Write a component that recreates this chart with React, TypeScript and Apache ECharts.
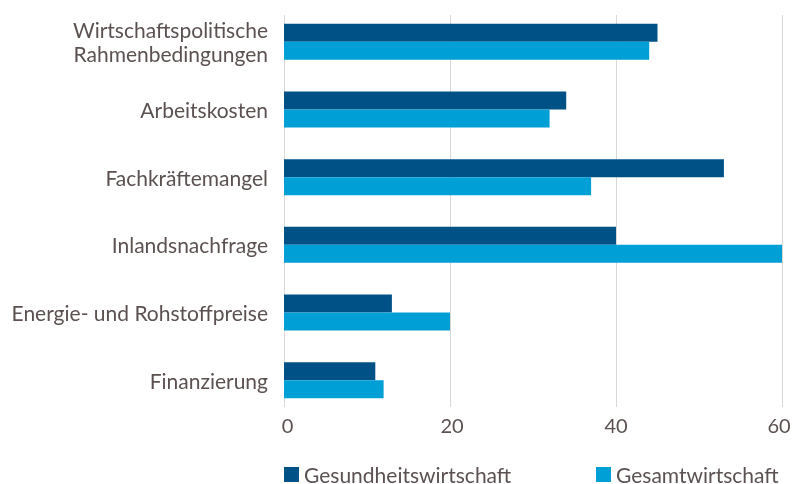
import React, { useEffect, useRef } from "react";
import * as echarts from "echarts";

const categories = [
  "Wirtschaftspolitische\nRahmenbedingungen",
  "Arbeitskosten",
  "Fachkräftemangel",
  "Inlandsnachfrage",
  "Energie- und Rohstoffpreise",
  "Finanzierung",
];
const seriesNames = ["Gesundheitswirtschaft", "Gesamtwirtschaft"];
const gesundheit = [45, 34, 53, 40, 13, 11];
const gesamt = [44, 32, 37, 60, 20, 12];
const xTicks = { min: 0, max: 60, interval: 20 };

const FONT = "Lato";
const TEXT_COLOR = "#5b5150";
const DARK = "#005286";
const LIGHT = "#009fd6";

const tickStyle = { fontFamily: FONT, fontSize: 20, color: TEXT_COLOR };

export default function App() {
  const ref = useRef<HTMLDivElement>(null);
  useEffect(() => {
    const chart = echarts.init(ref.current!, null, { renderer: "svg" });
    chart.setOption({
      animation: false,
      textStyle: { fontFamily: FONT },
      grid: [
        { left: 284, right: 10, top: 8, bottom: 70, containLabel: false, outerBoundsMode: "none" },
        { left: 284, right: 10, top: 15, bottom: 77, containLabel: false, outerBoundsMode: "none" },
      ],
      legend: [
        {
          data: [seriesNames[0]],
          left: 284,
          top: 464,
          itemWidth: 15,
          itemHeight: 15,
          itemGap: 8,
          icon: "rect",
          textStyle: { fontFamily: FONT, fontSize: 21, lineHeight: 17, color: TEXT_COLOR },
          padding: 0,
        },
        {
          data: [seriesNames[1]],
          left: 596,
          top: 464,
          itemWidth: 15,
          itemHeight: 15,
          icon: "rect",
          textStyle: { fontFamily: FONT, fontSize: 21, lineHeight: 17, color: TEXT_COLOR },
          padding: 0,
        },
      ],
      xAxis: [
        {
          type: "value",
          gridIndex: 0,
          min: xTicks.min,
          max: xTicks.max,
          interval: xTicks.interval,
          axisLine: { show: false },
          axisTick: { show: false },
          splitLine: { show: false },
          axisLabel: {
            ...tickStyle,
            margin: 1,
            formatter: (v: number) =>
              v === 0 ? `{a|${v}}` : v === 20 ? `{b|${v}}` : v === 60 ? `{d|${v}}` : `{c|${v}}`,
            rich: {
              a: { ...tickStyle, padding: [0, 0, 0, 7] },
              b: { ...tickStyle, padding: [0, 0, 0, 4] },
              c: { ...tickStyle },
              d: { ...tickStyle, padding: [0, 6, 0, 0] },
            },
          },
        },
        {
          type: "value",
          gridIndex: 1,
          min: xTicks.min,
          max: xTicks.max,
          interval: xTicks.interval,
          axisLine: { show: false },
          axisTick: { show: false },
          axisLabel: { show: false },
          splitLine: { show: true, lineStyle: { color: "#dad7d7", width: 1 } },
        },
      ],
      yAxis: [
        {
          type: "category",
          gridIndex: 0,
          data: categories,
          inverse: true,
          axisLine: { show: false },
          axisTick: { show: false },
          axisLabel: {
            fontFamily: FONT,
            fontSize: 21,
            lineHeight: 24,
            color: TEXT_COLOR,
            margin: 16,
            align: "right",
            padding: [0, 0, 6, 0],
          },
        },
        {
          type: "value",
          gridIndex: 1,
          min: 0,
          max: 1,
          show: false,
          splitLine: { show: false },
        },
      ],
      series: [
        {
          name: seriesNames[0],
          type: "bar",
          xAxisIndex: 0,
          yAxisIndex: 0,
          data: gesundheit,
          barWidth: 18,
          barGap: "0%",
          itemStyle: { color: DARK },
          z: 3,
        },
        {
          name: seriesNames[1],
          type: "bar",
          xAxisIndex: 0,
          yAxisIndex: 0,
          data: gesamt,
          barWidth: 18,
          barGap: "0%",
          itemStyle: { color: LIGHT },
          z: 3,
        },
      ],
    });
    return () => chart.dispose();
  }, []);
  return <div ref={ref} style={{ width: 792, height: 484, position: "fixed", left: 0, top: 0 }} />;
}
